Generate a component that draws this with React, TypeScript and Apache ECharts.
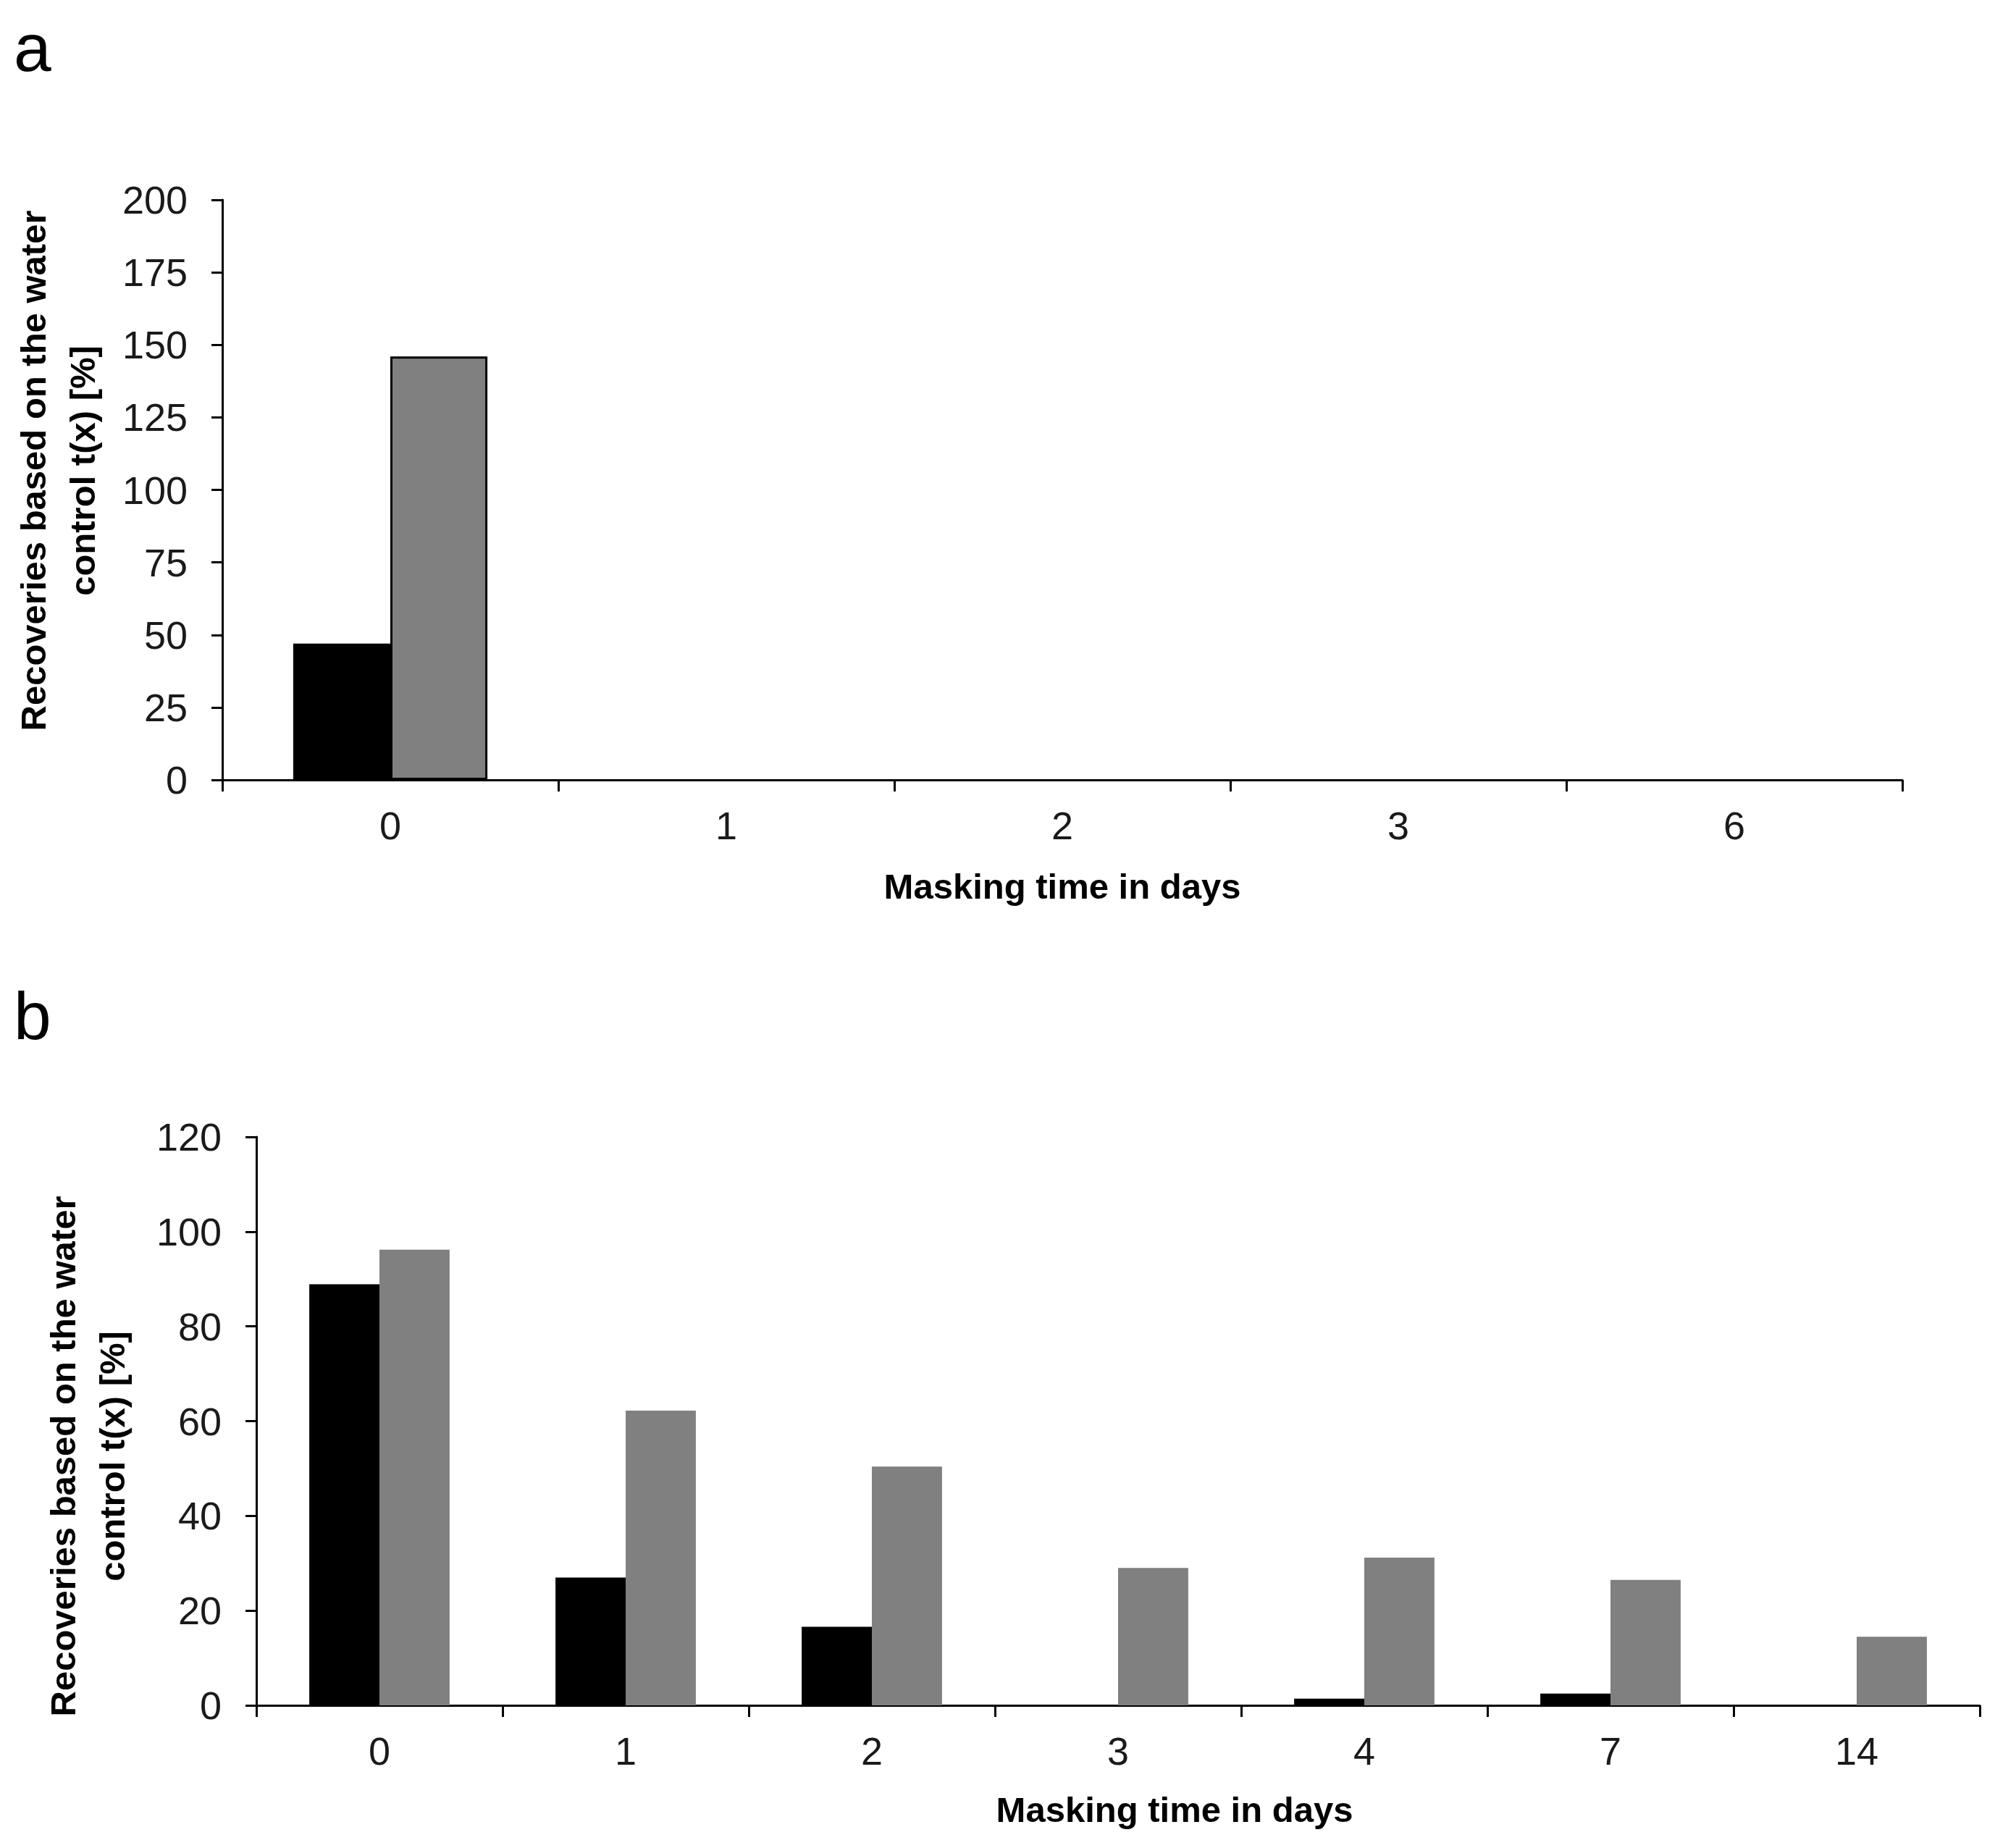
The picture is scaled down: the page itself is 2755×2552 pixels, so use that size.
import React, { useEffect, useRef } from "react";
import * as echarts from "echarts";

// Panel a
const categoriesA = ["0", "1", "2", "3", "6"];
const blackA = [47, 0, 0, 0, 0];
const grayA = [146, 0, 0, 0, 0];
const yTicksA = { min: 0, max: 200, interval: 25 };

// Panel b
const categoriesB = ["0", "1", "2", "3", "4", "7", "14"];
const blackB = [88.9, 27.0, 16.6, 0, 1.4, 2.5, 0];
const grayB = [96.2, 62.2, 50.4, 29.0, 31.2, 26.5, 14.5];
const yTicksB = { min: 0, max: 120, interval: 20 };

const yTitle = "Recoveries based on the water\ncontrol t(x) [%]";
const xTitle = "Masking time in days";

const SANS = "'Liberation Sans', Arial, sans-serif";

// zero-height bars get no outline so they don't draw a line on the axis
const outlined = (vals: number[]) =>
  vals.map((v) => (v === 0 ? { value: 0, itemStyle: { borderWidth: 0 } } : v));

export default function App() {
  const ref = useRef<HTMLDivElement>(null);
  useEffect(() => {
    if (!ref.current) return;
    const chart = echarts.init(ref.current, undefined, { renderer: "svg" });
    const axisLine = { show: true, lineStyle: { color: "#000", width: 3 } };
    const xAxisCommon = (data: string[], gridIndex: number) => ({
      type: "category",
      gridIndex,
      data,
      boundaryGap: true,
      axisLine,
      axisTick: { show: true, inside: false, length: 16, lineStyle: { color: "#000", width: 3 } },
      axisLabel: { margin: 36, fontSize: 54, color: "#1a1a1a", fontFamily: SANS },
      splitLine: { show: false },
    });
    const yAxisCommon = (t: { min: number; max: number; interval: number }, gridIndex: number) => ({
      type: "value",
      gridIndex,
      min: t.min,
      max: t.max,
      interval: t.interval,
      axisLine,
      axisTick: { show: true, inside: false, length: 15, lineStyle: { color: "#000", width: 3 } },
      axisLabel: { margin: 48, fontSize: 54, color: "#1a1a1a", fontFamily: SANS },
      splitLine: { show: false },
    });
    const option: any = {
      animation: false,
      backgroundColor: "#fff",
      grid: [
        { left: 307, top: 276, width: 2320, height: 801 },
        { left: 354, top: 1570, width: 2380, height: 785 },
      ],
      xAxis: [xAxisCommon(categoriesA, 0), xAxisCommon(categoriesB, 1)],
      yAxis: [yAxisCommon(yTicksA, 0), yAxisCommon(yTicksB, 1)],
      series: [
        {
          type: "bar",
          xAxisIndex: 0,
          yAxisIndex: 0,
          data: outlined(blackA),
          barWidth: "28.9%",
          barGap: "0%",
          itemStyle: { color: "#000", borderColor: "#000", borderWidth: 3 },
        },
        {
          type: "bar",
          xAxisIndex: 0,
          yAxisIndex: 0,
          data: outlined(grayA),
          barWidth: "28.9%",
          barGap: "0%",
          itemStyle: { color: "#808080", borderColor: "#000", borderWidth: 3 },
        },
        {
          type: "bar",
          xAxisIndex: 1,
          yAxisIndex: 1,
          data: blackB,
          barWidth: "28.5%",
          barGap: "0%",
          itemStyle: { color: "#000" },
        },
        {
          type: "bar",
          xAxisIndex: 1,
          yAxisIndex: 1,
          data: grayB,
          barWidth: "28.5%",
          barGap: "0%",
          itemStyle: { color: "#808080" },
        },
      ],
      graphic: [
        {
          type: "text",
          x: 19,
          y: 66,
          style: { text: "a", fontSize: 93, fontFamily: SANS, fill: "#000", textAlign: "left", verticalAlign: "middle" },
        },
        {
          type: "text",
          x: 19,
          y: 1403,
          style: { text: "b", fontSize: 93, fontFamily: SANS, fill: "#000", textAlign: "left", verticalAlign: "middle" },
        },
        {
          type: "text",
          x: 1467,
          y: 1224,
          style: { text: xTitle, fontSize: 49, fontWeight: "bold", fontFamily: SANS, fill: "#000", textAlign: "center", verticalAlign: "middle" },
        },
        {
          type: "text",
          x: 1622,
          y: 2499,
          style: { text: xTitle, fontSize: 49, fontWeight: "bold", fontFamily: SANS, fill: "#000", textAlign: "center", verticalAlign: "middle" },
        },
        {
          type: "text",
          x: 80,
          y: 650,
          rotation: Math.PI / 2,
          style: { text: yTitle, fontSize: 49, lineHeight: 68, fontWeight: "bold", fontFamily: SANS, fill: "#000", textAlign: "center", verticalAlign: "middle" },
        },
        {
          type: "text",
          x: 121,
          y: 2011,
          rotation: Math.PI / 2,
          style: { text: yTitle, fontSize: 49, lineHeight: 68, fontWeight: "bold", fontFamily: SANS, fill: "#000", textAlign: "center", verticalAlign: "middle" },
        },
      ],
    };
    chart.setOption(option);
    return () => chart.dispose();
  }, []);
  return (
    <div
      ref={ref}
      style={{ position: "fixed", left: 0, top: 0, width: 2755, height: 2552, background: "#fff" }}
    />
  );
}
